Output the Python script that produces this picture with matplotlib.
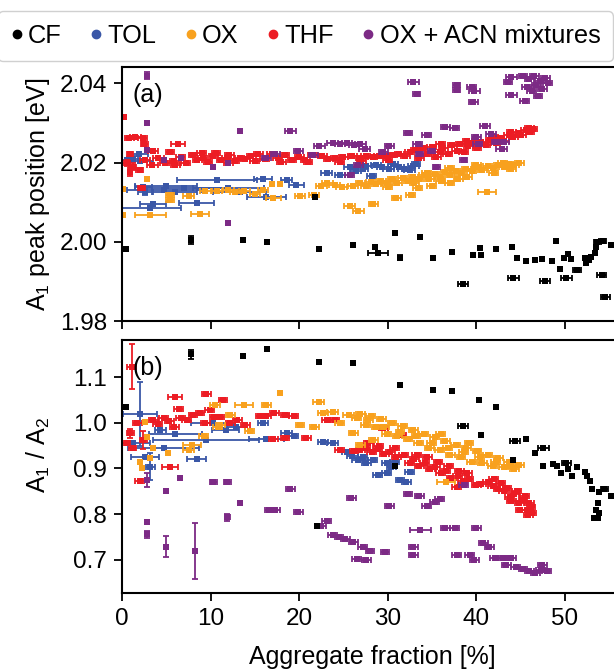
import numpy as np
import matplotlib
matplotlib.use("Agg")
import matplotlib.pyplot as plt
from matplotlib.lines import Line2D

plt.rcParams['font.family'] = ['Liberation Sans', 'DejaVu Sans']
plt.rcParams['mathtext.fontset'] = 'custom'
plt.rcParams['mathtext.rm'] = 'Liberation Sans'
plt.rcParams['mathtext.it'] = 'Liberation Sans:italic'
plt.rcParams['mathtext.default'] = 'regular'

# rows: (aggregate fraction, value, xerr, yerr)
cf_a = [(0.45, 1.9982, 0, 0), (7.75, 2.0005, 0, 0.0010), (13.6, 2.0005, 0, 0.0005),
        (16.4, 2.0000, 0, 0.0004), (22.2, 1.9982, 0, 0.0005), (26.1, 1.9992, 0, 0.0004),
        (28.9, 1.9972, 1.1, 0), (28.6, 1.9987, 0, 0), (30.8, 2.0023, 0, 0),
        (31.4, 1.9960, 0, 0.0006), (33.7, 2.0013, 0, 0), (35.1, 1.9960, 0, 0.0005),
        (37.3, 1.9975, 0, 0.0005), (38.5, 1.9894, 0.6, 0), (39.6, 1.9967, 0, 0),
        (40.4, 1.9985, 0, 0.0004), (40.6, 1.9967, 0, 0), (42.3, 1.9982, 0, 0.0004),
        (44.1, 1.9987, 0, 0), (44.2, 1.9909, 0.6, 0), (44.6, 1.9960, 0, 0),
        (45.6, 1.9953, 0, 0), (46.7, 1.9955, 0, 0), (47.5, 1.9956, 0, 0),
        (47.8, 1.9902, 0.6, 0), (48.6, 1.9952, 0, 0), (49.0, 2.0003, 0, 0),
        (49.5, 1.9932, 0, 0), (49.9, 1.9960, 0, 0), (50.2, 1.9910, 0.6, 0),
        (50.4, 1.9970, 0, 0), (50.7, 1.9957, 0, 0), (51.4, 1.9928, 0.5, 0),
        (52.3, 1.9960, 0, 0), (52.4, 1.9947, 0, 0), (52.8, 1.9955, 0, 0),
        (53.0, 1.9963, 0, 0), (53.4, 1.9972, 0, 0), (53.6, 1.9988, 0, 0),
        (53.7, 2.0000, 0.4, 0), (54.3, 2.0002, 0.4, 0), (54.2, 1.9917, 0.5, 0),
        (54.6, 1.9862, 0.5, 0), (55.2, 1.9992, 0, 0), (21.8, 2.0113, 0, 0)]

cf_b = [(0.45, 1.034, 0, 0), (7.75, 1.150, 0, 0.010), (13.6, 1.147, 0, 0.004),
        (16.4, 1.161, 0, 0), (22.2, 1.132, 0, 0), (22.0, 0.774, 0, 0),
        (26.1, 1.130, 0, 0), (31.4, 1.082, 0, 0), (30.8, 0.905, 0, 0),
        (35.1, 1.071, 0, 0), (37.3, 1.069, 0, 0), (38.5, 0.993, 0.6, 0),
        (40.3, 1.050, 0, 0), (40.6, 0.973, 0, 0.005), (42.3, 1.034, 0, 0),
        (44.4, 0.959, 0.6, 0), (44.2, 0.918, 0, 0), (45.6, 0.964, 0, 0),
        (46.7, 0.934, 0, 0), (47.6, 0.944, 0.6, 0), (47.6, 0.906, 0, 0),
        (48.7, 0.909, 0, 0), (49.1, 0.905, 0, 0), (49.6, 0.889, 0, 0),
        (50.2, 0.911, 0.5, 0), (50.4, 0.899, 0, 0), (50.8, 0.884, 0, 0),
        (51.4, 0.904, 0, 0), (52.3, 0.893, 0, 0), (52.5, 0.883, 0, 0),
        (52.9, 0.872, 0, 0), (53.1, 0.854, 0, 0), (53.9, 0.849, 0, 0),
        (54.5, 0.856, 0.4, 0), (55.2, 0.840, 0, 0), (53.8, 0.825, 0, 0),
        (53.6, 0.809, 0, 0), (53.9, 0.803, 0, 0), (53.3, 0.791, 0, 0),
        (53.8, 0.791, 0, 0)]

tol_a = [(0.5, 2.0206, 0.5, 0), (1.2, 2.0210, 0.6, 0.0008), (1.9, 2.0223, 1.0, 0),
         (2.0, 2.0205, 1.5, 0), (2.6, 2.0127, 0.8, 0.0008), (2.4, 2.0139, 1.0, 0),
         (3.5, 2.0097, 1.5, 0), (3.2, 2.0085, 3.5, 0), (4.7, 2.0131, 4.2, 0),
         (5.0, 2.0140, 3.5, 0), (6.0, 2.0125, 2.5, 0), (7.0, 2.0135, 5.0, 0),
         (8.4, 2.0099, 2.0, 0), (10.7, 2.0156, 4.5, 0), (12.0, 2.0135, 4.0, 0),
         (13.3, 2.0125, 3.0, 0), (15.9, 2.0158, 1.0, 0), (16.3, 2.0114, 2.2, 0),
         (18.6, 2.0156, 0.6, 0), (19.7, 2.0143, 0.8, 0), (23.1, 2.0174, 0.6, 0),
         (24.6, 2.0169, 0.6, 0), (25.7, 2.0190, 0.6, 0), (26.4, 2.0180, 0.6, 0),
         (27.2, 2.0184, 0.6, 0), (27.6, 2.0192, 0.6, 0), (28.2, 2.0166, 0.5, 0),
         (28.7, 2.0194, 0.6, 0), (29.4, 2.0188, 0.6, 0), (30.1, 2.0184, 0.6, 0),
         (30.6, 2.0196, 0.6, 0), (31.3, 2.0189, 0.6, 0), (31.8, 2.0183, 0.6, 0),
         (32.5, 2.0181, 0.6, 0), (32.9, 2.0191, 0.6, 0), (33.2, 2.0196, 0.5, 0)]

tol_b = [(2.0, 1.020, 1.9, 0.07), (1.2, 0.955, 2.0, 0), (3.2, 0.904, 0.5, 0.03),
         (2.6, 0.926, 1.6, 0), (4.3, 0.984, 0.6, 0), (4.7, 0.944, 4.0, 0),
         (6.0, 0.975, 3.0, 0), (8.4, 0.920, 1.1, 0), (9.5, 0.963, 6.0, 0),
         (10.3, 0.999, 2.5, 0), (11.7, 0.985, 1.5, 0), (12.9, 0.990, 1.0, 0),
         (15.9, 0.999, 0.6, 0), (16.3, 0.964, 2.0, 0), (18.6, 0.977, 0.6, 0),
         (19.4, 0.970, 0.5, 0), (22.7, 0.958, 0.6, 0), (23.8, 0.955, 0.6, 0),
         (25.4, 0.937, 0.6, 0), (26.0, 0.928, 0.6, 0), (26.6, 0.918, 0.6, 0),
         (27.2, 0.925, 0.5, 0), (27.6, 0.912, 0.5, 0), (28.3, 0.918, 0.5, 0),
         (28.9, 0.886, 0.5, 0), (29.9, 0.911, 0.5, 0), (29.9, 0.889, 0.5, 0),
         (30.4, 0.904, 0.5, 0), (30.8, 0.915, 0.5, 0), (31.4, 0.875, 0.5, 0),
         (32.1, 0.871, 0.5, 0), (32.5, 0.893, 0.5, 0)]

thf_a = [(0.15, 2.0315, 0, 0), (0.8, 2.0263, 0.5, 0), (1.5, 2.0266, 0.6, 0),
         (2.3, 2.0262, 0.5, 0), (2.5, 2.0247, 0.4, 0), (6.3, 2.0247, 0.8, 0),
         (3.5, 2.0230, 0.6, 0), (5.4, 2.0227, 0.5, 0), (0.9, 2.0222, 0.3, 0.0006),
         (0.5, 2.0200, 0.4, 0.0008), (1.2, 2.0190, 0.4, 0.0008), (0.9, 2.0176, 0, 0.0010),
         (2.0, 2.0182, 0.4, 0), (2.2, 2.0137, 0.4, 0), (2.6, 2.0208, 0.6, 0),
         (3.4, 2.0195, 0.6, 0), (4.1, 2.0212, 0.6, 0), (4.8, 2.0200, 0.5, 0),
         (5.9, 2.0205, 0.5, 0), (6.6, 2.0214, 0.5, 0), (7.2, 2.0200, 0.5, 0),
         (8.0, 2.0220, 0.5, 0), (8.5, 2.0206, 0.5, 0), (9.1, 2.0213, 0.5, 0),
         (9.7, 2.0202, 0.5, 0), (10.3, 2.0216, 0.5, 0), (10.6, 2.0224, 0.5, 0),
         (11.2, 2.0207, 0.5, 0), (11.8, 2.0213, 0.5, 0), (12.1, 2.0219, 0.5, 0),
         (12.7, 2.0205, 0.5, 0), (13.3, 2.0212, 0.5, 0), (13.9, 2.0209, 0.5, 0),
         (14.6, 2.0216, 0.5, 0), (15.4, 2.0222, 0.5, 0), (16.1, 2.0210, 0.5, 0),
         (16.9, 2.0222, 0.5, 0), (17.6, 2.0211, 0.5, 0), (18.4, 2.0220, 0.5, 0),
         (19.2, 2.0208, 0.5, 0), (20.0, 2.0215, 0.5, 0), (20.7, 2.0208, 0.5, 0),
         (21.5, 2.0220, 0.5, 0), (22.6, 2.0216, 0.5, 0), (23.3, 2.0210, 0.5, 0),
         (24.1, 2.0211, 0.5, 0), (25.0, 2.0214, 0.5, 0), (26.0, 2.0216, 0.5, 0),
         (26.9, 2.0213, 0.5, 0), (27.5, 2.0217, 0.5, 0), (28.3, 2.0214, 0.5, 0),
         (29.0, 2.0218, 0.5, 0), (29.8, 2.0216, 0.5, 0), (30.6, 2.0219, 0.5, 0),
         (31.3, 2.0222, 0.5, 0), (32.0, 2.0216, 0.5, 0), (32.5, 2.0226, 0.5, 0),
         (33.1, 2.0232, 0.5, 0), (33.6, 2.0211, 0.5, 0), (34.0, 2.0236, 0.5, 0),
         (34.4, 2.0222, 0.5, 0), (35.0, 2.0240, 0.5, 0), (35.5, 2.0214, 0.5, 0),
         (35.9, 2.0228, 0.5, 0), (36.3, 2.0238, 0.5, 0), (36.8, 2.0222, 0.5, 0),
         (37.3, 2.0244, 0.5, 0), (37.8, 2.0230, 0.5, 0), (38.2, 2.0247, 0.5, 0),
         (38.6, 2.0227, 0.5, 0), (39.1, 2.0242, 0.5, 0), (39.6, 2.0250, 0.5, 0),
         (40.1, 2.0238, 0.5, 0), (40.6, 2.0253, 0.5, 0), (41.1, 2.0245, 0.5, 0),
         (41.6, 2.0258, 0.5, 0), (42.2, 2.0250, 0.5, 0), (42.7, 2.0263, 0.5, 0),
         (43.2, 2.0256, 0.5, 0), (43.7, 2.0270, 0.5, 0), (44.2, 2.0264, 0.5, 0),
         (44.7, 2.0276, 0.5, 0), (45.1, 2.0270, 0.5, 0), (45.6, 2.0282, 0.5, 0),
         (46.1, 2.0278, 0.5, 0), (46.4, 2.0285, 0.5, 0),
         (6.0, 2.0195, 0.5, 0), (9.0, 2.0225, 0.5, 0), (12.0, 2.0198, 0.5, 0),
         (15.0, 2.0205, 0.5, 0), (18.0, 2.0203, 0.5, 0), (21.0, 2.0202, 0.5, 0),
         (24.6, 2.0203, 0.5, 0), (27.0, 2.0205, 0.5, 0), (30.0, 2.0208, 0.5, 0),
         (36.0, 2.0246, 0.5, 0), (39.0, 2.0255, 0.5, 0), (42.0, 2.0265, 0.5, 0),
         (44.0, 2.0278, 0.5, 0), (46.0, 2.0288, 0.5, 0)]

thf_b = [(1.1, 1.123, 0.5, 0.049), (6.0, 1.056, 0.8, 0), (9.5, 1.063, 0.5, 0),
         (6.4, 1.031, 0.5, 0), (11.4, 1.050, 0.5, 0), (0.9, 0.977, 0.4, 0.01),
         (0.5, 0.955, 0.4, 0), (1.2, 0.944, 0.4, 0), (1.7, 0.999, 0.5, 0),
         (2.0, 0.873, 0.5, 0), (2.4, 0.962, 0.4, 0.02), (3.5, 1.006, 0.5, 0),
         (4.0, 0.998, 0.5, 0), (4.7, 1.010, 0.5, 0), (5.4, 0.904, 0.9, 0),
         (5.3, 1.004, 0.5, 0), (5.9, 0.991, 0.5, 0), (6.6, 1.010, 0.5, 0),
         (7.3, 1.006, 0.5, 0), (8.0, 1.018, 0.5, 0), (8.8, 1.021, 0.5, 0),
         (9.4, 0.999, 0.5, 0), (9.9, 1.028, 0.5, 0), (10.4, 1.012, 0.5, 0),
         (11.0, 1.013, 0.5, 0), (12.2, 0.999, 0.5, 0), (13.0, 1.005, 0.5, 0),
         (13.9, 0.996, 0.5, 0), (15.6, 1.015, 0.5, 0), (16.3, 1.015, 0.5, 0),
         (17.1, 0.964, 0.5, 0), (17.2, 1.021, 0.5, 0), (18.4, 1.018, 0.5, 0),
         (18.4, 0.966, 0.5, 0), (19.4, 1.015, 0.5, 0), (20.8, 0.966, 0.5, 0),
         (23.1, 1.007, 0.5, 0), (24.0, 1.007, 0.5, 0), (24.6, 0.940, 0.5, 0),
         (26.2, 0.938, 0.5, 0), (26.9, 0.940, 0.5, 0), (27.5, 0.945, 0.5, 0),
         (28.2, 0.936, 0.5, 0), (28.9, 0.942, 0.5, 0), (29.5, 0.988, 0.5, 0),
         (29.6, 0.932, 0.5, 0), (30.3, 0.935, 0.5, 0), (31.0, 0.926, 0.5, 0),
         (31.6, 0.973, 0.5, 0), (31.8, 0.930, 0.5, 0), (32.5, 0.911, 0.5, 0),
         (33.0, 0.920, 0.5, 0), (33.6, 0.905, 0.5, 0), (34.2, 0.912, 0.5, 0),
         (34.8, 0.898, 0.5, 0), (35.4, 0.903, 0.5, 0), (36.0, 0.889, 0.5, 0),
         (36.6, 0.895, 0.5, 0), (37.2, 0.880, 0.5, 0), (37.8, 0.859, 0.5, 0),
         (37.9, 0.884, 0.5, 0), (38.5, 0.872, 0.5, 0), (39.2, 0.876, 0.5, 0),
         (40.0, 0.864, 0.5, 0), (40.6, 0.866, 0.5, 0), (41.3, 0.870, 0.5, 0),
         (41.9, 0.862, 0.5, 0), (42.5, 0.855, 0.5, 0), (43.1, 0.850, 0.5, 0),
         (43.8, 0.838, 0.5, 0), (44.3, 0.845, 0.5, 0), (44.9, 0.824, 0.5, 0),
         (45.3, 0.830, 0.5, 0), (45.7, 0.809, 0.5, 0), (45.9, 0.798, 0.5, 0),
         (46.2, 0.815, 0.5, 0),
         (27.8, 0.955, 0.5, 0), (29.0, 0.950, 0.5, 0), (30.8, 0.945, 0.5, 0),
         (33.3, 0.930, 0.5, 0), (34.5, 0.925, 0.5, 0), (35.7, 0.915, 0.5, 0),
         (36.9, 0.905, 0.5, 0), (38.1, 0.895, 0.5, 0), (39.0, 0.890, 0.5, 0),
         (42.0, 0.876, 0.5, 0), (42.8, 0.868, 0.5, 0), (43.5, 0.858, 0.5, 0),
         (44.0, 0.828, 0.5, 0), (44.6, 0.850, 0.5, 0), (45.0, 0.810, 0.5, 0),
         (45.5, 0.840, 0.5, 0), (46.0, 0.825, 0.5, 0), (46.3, 0.803, 0.5, 0)]

ox_a = [(0.1, 2.0133, 0, 0), (0.1, 2.0068, 0, 0), (2.8, 2.0160, 0, 0),
        (5.4, 2.0118, 0.5, 0), (5.4, 2.0106, 0.5, 0), (3.2, 2.0068, 1.7, 0),
        (8.8, 2.0070, 1.0, 0), (7.5, 2.0116, 0.6, 0), (9.4, 2.0129, 0.6, 0),
        (10.7, 2.0129, 0.6, 0), (12.0, 2.0131, 0.6, 0), (12.8, 2.0127, 0.6, 0),
        (13.8, 2.0129, 0.6, 0), (15.0, 2.0122, 0.6, 0), (15.9, 2.0131, 0.6, 0),
        (16.9, 2.0146, 0, 0), (17.1, 2.0110, 0.8, 0), (17.8, 2.0146, 0, 0),
        (20.1, 2.0116, 0.6, 0), (21.7, 2.0118, 0.6, 0), (22.5, 2.0140, 0.6, 0),
        (23.2, 2.0148, 0.6, 0), (24.0, 2.0143, 0.6, 0), (24.8, 2.0138, 0.6, 0),
        (25.7, 2.0091, 0.6, 0), (26.1, 2.0142, 0.6, 0), (26.7, 2.0077, 0.6, 0),
        (26.9, 2.0148, 0.5, 0), (27.5, 2.0140, 0.5, 0), (28.1, 2.0152, 0.5, 0),
        (28.4, 2.0096, 0.5, 0), (28.7, 2.0145, 0.5, 0), (29.3, 2.0155, 0.5, 0),
        (29.9, 2.0148, 0.5, 0), (30.5, 2.0158, 0.5, 0), (31.0, 2.0110, 0.5, 0),
        (31.1, 2.0150, 0.5, 0), (31.7, 2.0162, 0.5, 0), (32.3, 2.0154, 0.5, 0),
        (32.6, 2.0118, 0.5, 0), (32.9, 2.0164, 0.5, 0), (33.4, 2.0135, 0.5, 0),
        (33.5, 2.0158, 0.5, 0), (34.1, 2.0168, 0.5, 0), (34.7, 2.0160, 0.5, 0),
        (35.0, 2.0140, 0.5, 0), (35.3, 2.0172, 0.5, 0), (35.9, 2.0165, 0.5, 0),
        (36.5, 2.0176, 0.5, 0), (37.0, 2.0150, 0.5, 0), (37.1, 2.0170, 0.5, 0),
        (37.7, 2.0180, 0.5, 0), (38.3, 2.0174, 0.5, 0), (38.9, 2.0184, 0.5, 0),
        (39.5, 2.0178, 0.5, 0), (40.1, 2.0188, 0.5, 0), (40.7, 2.0182, 0.5, 0),
        (41.2, 2.0127, 1.0, 0), (41.3, 2.0191, 0.5, 0), (41.9, 2.0186, 0.5, 0),
        (42.5, 2.0194, 0.5, 0), (43.1, 2.0190, 0.5, 0), (43.7, 2.0197, 0.5, 0),
        (44.3, 2.0193, 0.5, 0), (44.9, 2.0199, 0.5, 0),
        (30.0, 2.0138, 0.5, 0), (33.0, 2.0148, 0.5, 0), (36.0, 2.0155, 0.5, 0),
        (38.0, 2.0160, 0.5, 0), (39.0, 2.0165, 0.5, 0), (42.0, 2.0175, 0.5, 0),
        (44.0, 2.0185, 0.5, 0), (34.4, 2.0174, 0.5, 0), (37.0, 2.0186, 0.5, 0),
        (40.0, 2.0194, 0.5, 0), (43.0, 2.0200, 0.5, 0)]

ox_b = [(2.6, 1.002, 0, 0), (2.8, 0.969, 0, 0), (2.2, 0.902, 0, 0),
        (2.0, 0.915, 0, 0), (3.2, 0.922, 0, 0), (3.5, 0.944, 0, 0),
        (5.2, 0.933, 0, 0), (7.5, 0.940, 0.6, 0), (7.9, 0.951, 1.0, 0),
        (9.2, 0.971, 0.5, 0), (10.5, 1.039, 0.6, 0), (10.8, 0.990, 0.5, 0),
        (11.1, 0.995, 0.5, 0), (12.2, 1.017, 0.5, 0), (13.8, 1.039, 1.0, 0),
        (14.4, 0.983, 0.5, 0), (16.3, 1.039, 0.5, 0), (17.8, 1.064, 0, 0),
        (20.1, 0.995, 0.5, 0), (21.7, 0.990, 0.5, 0), (22.2, 1.046, 0.6, 0),
        (22.7, 1.022, 0.6, 0), (23.8, 1.024, 0.6, 0), (24.6, 0.999, 0.5, 0),
        (25.6, 1.018, 0.6, 0), (26.1, 0.977, 0.5, 0), (26.5, 1.011, 0.5, 0),
        (26.9, 0.951, 0.5, 0), (26.9, 1.020, 0.5, 0), (27.5, 0.995, 0.5, 0),
        (28.1, 1.015, 0.5, 0), (28.4, 0.962, 0.5, 0), (28.7, 0.990, 0.5, 0),
        (29.3, 1.008, 0.5, 0), (29.9, 0.975, 0.5, 0), (30.5, 1.000, 0.5, 0),
        (31.1, 0.970, 0.5, 0), (31.7, 0.992, 0.5, 0), (32.3, 0.965, 0.5, 0),
        (32.9, 0.985, 0.5, 0), (33.5, 0.955, 0.5, 0), (34.1, 0.975, 0.5, 0),
        (34.7, 0.945, 0.5, 0), (35.3, 0.968, 0.5, 0), (35.9, 0.940, 0.5, 0),
        (36.5, 0.960, 0.5, 0), (36.6, 0.871, 1.0, 0), (37.1, 0.930, 0.5, 0),
        (37.7, 0.952, 0.5, 0), (38.3, 0.925, 0.5, 0), (38.9, 0.945, 0.5, 0),
        (39.5, 0.915, 0.5, 0), (40.1, 0.938, 0.5, 0), (40.7, 0.912, 0.5, 0),
        (41.3, 0.930, 0.5, 0), (41.9, 0.905, 0.5, 0), (42.5, 0.922, 0.5, 0),
        (43.1, 0.903, 0.5, 0), (43.7, 0.915, 0.5, 0), (44.3, 0.898, 0.5, 0),
        (44.9, 0.908, 0.5, 0),
        (27.8, 1.005, 0.5, 0), (29.6, 0.990, 0.5, 0), (31.4, 0.980, 0.5, 0),
        (33.2, 0.970, 0.5, 0), (35.0, 0.956, 0.5, 0), (36.8, 0.945, 0.5, 0),
        (38.6, 0.936, 0.5, 0), (40.4, 0.925, 0.5, 0), (42.2, 0.914, 0.5, 0),
        (44.0, 0.906, 0.5, 0), (36.0, 0.975, 0.5, 0), (39.2, 0.955, 0.5, 0)]

acn_a = [(2.8, 2.0420, 0, 0.0010), (2.8, 2.0299, 0, 0), (2.8, 2.0231, 0, 0),
         (4.7, 2.0206, 0, 0), (6.7, 2.0211, 0, 0), (10.3, 2.0189, 0, 0),
         (12.0, 2.0199, 0, 0), (12.0, 2.0049, 0, 0), (13.3, 2.0279, 0, 0),
         (16.3, 2.0211, 0.5, 0), (17.3, 2.0222, 0.5, 0), (19.0, 2.0279, 0.6, 0),
         (19.9, 2.0230, 0.5, 0), (21.6, 2.0219, 0.5, 0), (22.3, 2.0241, 0.6, 0),
         (23.8, 2.0249, 0.6, 0), (24.6, 2.0246, 0.6, 0), (25.4, 2.0249, 0.6, 0),
         (26.2, 2.0244, 0.6, 0), (26.9, 2.0246, 0.6, 0), (26.7, 2.0194, 0.5, 0),
         (25.7, 2.0169, 0.5, 0), (27.4, 2.0234, 0.6, 0), (29.5, 2.0227, 0.5, 0),
         (30.2, 2.0241, 0.5, 0), (32.9, 2.0403, 0.6, 0), (33.3, 2.0374, 0.4, 0),
         (32.3, 2.0275, 0.4, 0), (33.4, 2.0248, 0.5, 0), (33.6, 2.0223, 0.4, 0),
         (34.4, 2.0271, 0.5, 0), (35.0, 2.0229, 0.4, 0), (35.5, 2.0189, 0.4, 0),
         (36.5, 2.0290, 0.5, 0), (37.6, 2.0288, 0.5, 0), (37.8, 2.0397, 0.4, 0),
         (37.8, 2.0384, 0.4, 0), (38.6, 2.0208, 0.4, 0), (39.5, 2.0392, 0.5, 0),
         (39.8, 2.0382, 0.6, 0), (39.7, 2.0353, 0.5, 0), (40.0, 2.0265, 0.5, 0),
         (40.2, 2.0247, 0.5, 0), (41.0, 2.0292, 0.6, 0), (41.7, 2.0273, 0.6, 0),
         (42.3, 2.0252, 0.5, 0), (42.9, 2.0234, 0.6, 0), (43.2, 2.0252, 0.5, 0),
         (43.6, 2.0403, 0.5, 0), (44.0, 2.0416, 0.6, 0), (44.0, 2.0372, 0.6, 0),
         (45.3, 2.0418, 0.5, 0), (45.5, 2.0355, 0.5, 0), (45.7, 2.0391, 0.5, 0),
         (46.0, 2.0410, 0.5, 0), (46.3, 2.0380, 0.5, 0), (46.6, 2.0420, 0.5, 0),
         (46.8, 2.0395, 0.5, 0), (47.0, 2.0368, 0.5, 0), (47.2, 2.0405, 0.5, 0),
         (47.5, 2.0385, 0.5, 0), (47.8, 2.0413, 0.5, 0), (48.1, 2.0400, 0.5, 0)]

acn_b = [(2.8, 0.875, 0, 0.015), (2.8, 0.782, 0, 0), (2.8, 0.756, 0, 0.008),
         (4.9, 0.851, 0, 0), (5.0, 0.729, 0, 0.023), (6.5, 0.880, 0, 0),
         (8.2, 0.719, 0, 0.062), (10.3, 0.871, 0.4, 0), (11.9, 0.871, 0.4, 0),
         (11.9, 0.793, 0.3, 0.008), (13.3, 0.824, 0, 0), (16.6, 0.808, 0.5, 0),
         (17.3, 0.808, 0.5, 0), (19.0, 0.854, 0.5, 0), (19.9, 0.805, 0.5, 0),
         (22.5, 0.773, 0.5, 0), (23.1, 0.785, 0.5, 0), (23.8, 0.755, 0.5, 0),
         (24.5, 0.750, 0.5, 0), (25.2, 0.745, 0.5, 0), (25.9, 0.836, 0.5, 0),
         (26.1, 0.739, 0.5, 0), (26.5, 0.701, 0.5, 0), (27.2, 0.729, 0.5, 0),
         (27.6, 0.700, 0.5, 0), (28.0, 0.720, 0.5, 0), (29.7, 0.718, 0.5, 0),
         (30.2, 0.818, 0.5, 0), (32.3, 0.843, 0.5, 0), (32.9, 0.729, 0.5, 0),
         (32.9, 0.711, 0.5, 0), (33.6, 0.840, 0.5, 0), (33.7, 0.765, 1.2, 0),
         (34.4, 0.818, 0.5, 0), (35.3, 0.827, 0.5, 0), (35.9, 0.832, 0.5, 0),
         (36.5, 0.769, 0.5, 0), (37.6, 0.769, 0.5, 0), (37.8, 0.710, 0.5, 0),
         (38.6, 0.864, 0.5, 0), (39.3, 0.710, 0.5, 0), (39.8, 0.700, 0.5, 0),
         (40.0, 0.769, 0.5, 0), (40.8, 0.737, 0.5, 0), (41.5, 0.727, 0.5, 0),
         (42.1, 0.704, 0.5, 0), (43.0, 0.704, 0.5, 0), (43.4, 0.689, 0.5, 0),
         (44.0, 0.704, 0.5, 0), (44.5, 0.685, 0.5, 0), (45.3, 0.680, 0.5, 0),
         (46.0, 0.675, 0.5, 0), (46.7, 0.672, 0.5, 0), (47.3, 0.678, 0.5, 0),
         (48.0, 0.676, 0.5, 0), (47.5, 0.688, 0.5, 0)]

names = ['CF', 'TOL', 'OX', 'THF', 'OX + ACN mixtures']
colors = ['#000000', '#3a57a7', '#f8a11e', '#ec1c24', '#7c2a85']


def draw(ax, rows, color):
    d = np.array(rows)
    x, y, xe, ye = d.T
    m = xe > 0
    if m.any():
        ax.errorbar(x[m], y[m], xerr=xe[m], fmt='none', ecolor=color,
                    elinewidth=1.3, capsize=2.2, capthick=1.3)
    m = ye > 0
    if m.any():
        ax.errorbar(x[m], y[m], yerr=ye[m], fmt='none', ecolor=color,
                    elinewidth=1.3, capsize=2.2, capthick=1.3)
    ax.plot(x, y, 's', color=color, ms=4.5, mew=0)


fig = plt.figure(figsize=(6.14, 6.72), dpi=100)
ax1 = fig.add_axes([0.199, 0.522, 0.843, 0.378])
ax2 = fig.add_axes([0.199, 0.118, 0.843, 0.376])

for rows, c in [(tol_a, colors[1]), (thf_a, colors[3]), (ox_a, colors[2]),
                (acn_a, colors[4]), (cf_a, colors[0])]:
    draw(ax1, rows, c)
for rows, c in [(tol_b, colors[1]), (thf_b, colors[3]), (ox_b, colors[2]),
                (acn_b, colors[4]), (cf_b, colors[0])]:
    draw(ax2, rows, c)

for ax in (ax1, ax2):
    ax.set_xlim(0, 58.5)
    ax.set_xticks([0, 10, 20, 30, 40, 50])
    ax.tick_params(labelsize=17.5, length=6, width=1.3, pad=5)
    for s in ax.spines.values():
        s.set_linewidth(1.5)
ax1.tick_params(labelbottom=False)

ax1.set_ylim(1.98, 2.0441)
ax1.set_yticks([1.98, 2.00, 2.02, 2.04])
ax1.set_yticklabels(['1.98', '2.00', '2.02', '2.04'])
ax2.set_ylim(0.628, 1.181)
ax2.set_yticks([0.7, 0.8, 0.9, 1.0, 1.1])

ax1.set_ylabel('A$_1$ peak position [eV]', fontsize=18)
ax1.yaxis.set_label_coords(-0.135, 0.5)
ax2.set_ylabel('A$_1$ / A$_2$', fontsize=18)
ax2.yaxis.set_label_coords(-0.135, 0.545)
ax2.set_xlabel('Aggregate fraction [%]', fontsize=18)
ax2.xaxis.set_label_coords(0.483, -0.205)
ax2.xaxis.label.set_va('top')

ax1.text(0.02, 0.937, '(a)', transform=ax1.transAxes, fontsize=18, va='top')
ax2.text(0.02, 0.937, '(b)', transform=ax2.transAxes, fontsize=18, va='top')

handles = [Line2D([], [], ls='none', marker='o', color=c, ms=6) for c in colors]
fig.legend(handles, names, loc='upper left', bbox_to_anchor=(-0.004, 0.983),
           borderaxespad=0, ncol=5, fontsize=18.3, handlelength=0.5,
           handletextpad=0.2, columnspacing=1.1, borderpad=0.5,
           frameon=True, fancybox=True, edgecolor='#d0d0d0', framealpha=1)

fig.savefig('out.png', dpi=100)
